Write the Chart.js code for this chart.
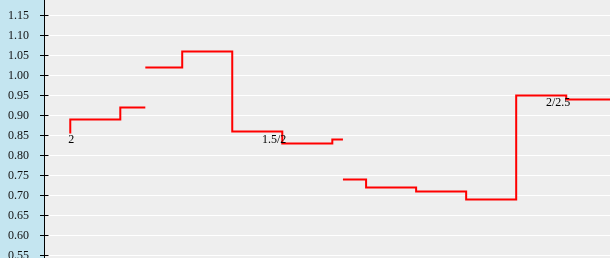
<!DOCTYPE html>
<html>
<head>
<meta charset="utf-8">
<script src="https://cdn.jsdelivr.net/npm/chart.js@4"></script>
<style>
  html, body { margin: 0; padding: 0; background: #eeeeee; }
  #wrap { width: 610px; height: 258px; }
</style>
</head>
<body>
<div id="wrap"><canvas id="oddsChart" width="610" height="258"></canvas></div>
<script>
// minutes of play, null splits the line
const minutes = [4.2, 4.2, 12.2, 16.2, null, 16.2, 22.1, 30.1, 38.1, 46.1, 47.8, null, 47.8, 51.5, 59.5, 67.5, 75.5, 83.5, 90.5];
const odds = [0.855, 0.89, 0.92, 0.92, null, 1.02, 1.06, 0.86, 0.83, 0.84, 0.84, null, 0.74, 0.72, 0.71, 0.69, 0.95, 0.94, 0.94];

// handicap line markers
const lineLabels = ["2", "1.5/2", "2/2.5"];
const labelMinutes = [4.2, 38.1, 83.5];
const labelOdds = [0.84, 0.84, 0.931];

const yTicks = [0.55, 0.60, 0.65, 0.70, 0.75, 0.80, 0.85, 0.90, 0.95, 1.00, 1.05, 1.10, 1.15];

const points = minutes.map((m, i) => ({ x: m === null ? NaN : m, y: odds[i] }));

const SERIF = "'Liberation Serif', 'Times New Roman', serif";

const backdrop = {
  id: "backdrop",
  beforeDraw(chart) {
    const { ctx, chartArea } = chart;
    ctx.save();
    ctx.fillStyle = "#c4e5f0";
    ctx.fillRect(0, 0, chartArea.left, chart.height);
    ctx.fillStyle = "#eeeeee";
    ctx.fillRect(chartArea.left, 0, chart.width - chartArea.left, chart.height);
    ctx.restore();
  },
  afterDraw(chart) {
    const { ctx, chartArea } = chart;
    const y = chart.scales.y;
    const ax = Math.floor(chartArea.left) + 0.5;
    ctx.save();
    ctx.strokeStyle = "#000";
    ctx.lineWidth = 1;
    ctx.beginPath();
    ctx.moveTo(ax, 0);
    ctx.lineTo(ax, chart.height);
    yTicks.forEach(v => {
      const py = Math.floor(y.getPixelForValue(v)) + 0.5;
      ctx.moveTo(ax - 4.5, py);
      ctx.lineTo(ax + 4, py);
    });
    ctx.stroke();
    ctx.restore();
  }
};

const markers = {
  id: "markers",
  afterDatasetsDraw(chart) {
    const { ctx } = chart;
    const xs = chart.scales.x, ys = chart.scales.y;
    ctx.save();
    ctx.font = "12px " + SERIF;
    ctx.fillStyle = "#000";
    ctx.textAlign = "right";
    ctx.textBaseline = "middle";
    lineLabels.forEach((t, i) => {
      ctx.fillText(t, xs.getPixelForValue(labelMinutes[i]) + 4, ys.getPixelForValue(labelOdds[i]));
    });
    ctx.restore();
  }
};

new Chart(document.getElementById("oddsChart").getContext("2d"), {
  type: "line",
  data: {
    datasets: [{
      data: points,
      borderColor: "#ff0000",
      borderWidth: 2,
      stepped: true,
      spanGaps: false,
      pointRadius: 0,
      fill: false,
      tension: 0
    }]
  },
  options: {
    responsive: false,
    devicePixelRatio: 1,
    animation: false,
    layout: { padding: 0, autoPadding: false },
    plugins: { legend: { display: false }, tooltip: { enabled: false } },
    scales: {
      x: {
        type: "linear",
        min: 0,
        max: 90.5,
        display: false
      },
      y: {
        min: 0.54375,
        max: 1.18875,
        afterFit: s => {
          s.width = 44;
          s.paddingTop = 0;
          s.paddingBottom = 0;
        },
        afterBuildTicks: s => { s.ticks = yTicks.map(v => ({ value: v })); },
        border: { display: false },
        grid: { color: "#ffffff", lineWidth: 1, drawTicks: false },
        ticks: {
          padding: 15,
          color: "#111",
          font: { family: SERIF, size: 12 },
          callback: v => Number(v).toFixed(2)
        }
      }
    }
  },
  plugins: [backdrop, markers]
});
</script>
</body>
</html>
